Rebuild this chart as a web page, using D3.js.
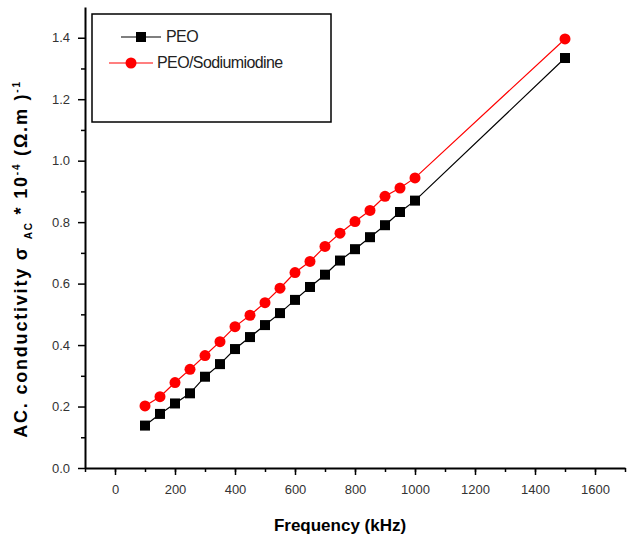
<!DOCTYPE html>
<html>
<head>
<meta charset="utf-8">
<script src="https://cdn.jsdelivr.net/npm/d3@7"></script>
<style>
  body { margin: 0; background: #fff; }
  svg { font-family: "Liberation Sans", Arial, sans-serif; }
</style>
</head>
<body>
<svg id="chart" width="628" height="542"></svg>
<script>
// Data
const frequencies = [100, 150, 200, 250, 300, 350, 400, 450, 500, 550, 600, 650, 700, 750, 800, 850, 900, 950, 1000, 1500];
const peo = [0.138, 0.176, 0.21, 0.243, 0.297, 0.338, 0.387, 0.426, 0.465, 0.504, 0.547, 0.589, 0.629, 0.675, 0.712, 0.751, 0.79, 0.833, 0.87, 1.334];
const peoNaI = [0.202, 0.232, 0.278, 0.321, 0.366, 0.411, 0.46, 0.497, 0.538, 0.585, 0.636, 0.672, 0.721, 0.764, 0.802, 0.838, 0.884, 0.911, 0.944, 1.396];
const xTicks = [0, 200, 400, 600, 800, 1000, 1200, 1400, 1600];
const yTicks = [0.0, 0.2, 0.4, 0.6, 0.8, 1.0, 1.2, 1.4];

const svg = d3.select("#chart");
const plotLeft = 85, plotRight = 625, plotTop = 7, plotBottom = 468;

const x = d3.scaleLinear().domain([-100, 1700]).range([plotLeft, plotRight]);
const y = d3.scaleLinear().domain([0, 1.5]).range([plotBottom, plotTop]);

// Minor ticks first (short), then major ticks with labels
svg.append("g")
  .attr("transform", `translate(0,${plotBottom})`)
  .call(d3.axisBottom(x).tickValues(d3.range(-100, 1701, 100)).tickSize(4).tickFormat(""))
  .call((g) => g.select(".domain").remove())
  .call((g) => g.selectAll("line").attr("stroke", "#000").attr("stroke-width", 1.5));

const xAxis = svg.append("g")
  .attr("transform", `translate(0,${plotBottom})`)
  .call(d3.axisBottom(x).tickValues(xTicks).tickSize(7).tickSizeOuter(0).tickPadding(10).tickFormat(d3.format("d")));
xAxis.select(".domain").attr("stroke", "#000").attr("stroke-width", 2);
xAxis.selectAll("line").attr("stroke", "#000").attr("stroke-width", 1.5);
xAxis.selectAll("text").attr("font-size", 13).attr("fill", "#333").attr("font-family", "Liberation Sans, Arial, sans-serif");

svg.append("g")
  .attr("transform", `translate(${plotLeft},0)`)
  .call(d3.axisLeft(y).tickValues(d3.range(1, 15, 2).map((d) => d / 10)).tickSize(4).tickFormat(""))
  .call((g) => g.select(".domain").remove())
  .call((g) => g.selectAll("line").attr("stroke", "#000").attr("stroke-width", 1.5));

const yAxis = svg.append("g")
  .attr("transform", `translate(${plotLeft},0)`)
  .call(d3.axisLeft(y).tickValues(yTicks).tickSize(7).tickSizeOuter(0).tickPadding(8).tickFormat(d3.format(".1f")));
yAxis.select(".domain").attr("stroke", "#000").attr("stroke-width", 2);
yAxis.selectAll("line").attr("stroke", "#000").attr("stroke-width", 1.5);
yAxis.selectAll("text").attr("font-size", 13).attr("fill", "#333").attr("font-family", "Liberation Sans, Arial, sans-serif");

// Axis titles
svg.append("text")
  .attr("x", 340)
  .attr("y", 531)
  .attr("text-anchor", "middle")
  .attr("font-size", 17)
  .attr("font-weight", "bold")
  .text("Frequency (kHz)");

const yTitle = svg.append("text")
  .attr("transform", "translate(27,259) rotate(-90)")
  .attr("text-anchor", "middle")
  .attr("font-size", 18)
  .attr("font-weight", "bold")
  .attr("letter-spacing", 1.8);
yTitle.append("tspan").text("AC. conductivity σ ");
yTitle.append("tspan").attr("font-size", 10).attr("dy", 5).text("AC");
yTitle.append("tspan").attr("dy", -5).text(" * 10");
yTitle.append("tspan").attr("font-size", 10).attr("dy", -7).text("-4");
yTitle.append("tspan").attr("dy", 7).text(" (Ω.m )");
yTitle.append("tspan").attr("font-size", 10).attr("dy", -7).text("-1");

// Series
const series = [
  { name: "PEO", values: peo, color: "#000", shape: "square" },
  { name: "PEO/Sodiumiodine", values: peoNaI, color: "#ff0000", shape: "circle" },
];

const line = d3.line()
  .x((d) => x(d[0]))
  .y((d) => y(d[1]));

function drawMarker(g, shape, color, cx, cy) {
  if (shape === "square") {
    g.append("rect")
      .attr("x", cx - 5).attr("y", cy - 5)
      .attr("width", 10).attr("height", 10)
      .attr("fill", color);
  } else {
    g.append("circle")
      .attr("cx", cx).attr("cy", cy).attr("r", 5.5)
      .attr("fill", color);
  }
}

series.forEach((s) => {
  const pts = frequencies.map((f, i) => [f, s.values[i]]);
  svg.append("path")
    .datum(pts)
    .attr("fill", "none")
    .attr("stroke", s.color)
    .attr("stroke-width", 1.2)
    .attr("d", line);
  const g = svg.append("g");
  pts.forEach((p) => drawMarker(g, s.shape, s.color, x(p[0]), y(p[1])));
});

// Legend
svg.append("rect")
  .attr("x", 92).attr("y", 14)
  .attr("width", 239).attr("height", 108)
  .attr("fill", "none")
  .attr("stroke", "#000")
  .attr("stroke-width", 1.5);

const legendRows = [
  { s: series[0], x1: 121, x2: 161, y: 37, tx: 166 },
  { s: series[1], x1: 109, x2: 153, y: 63, tx: 157 },
];
legendRows.forEach((r) => {
  const g = svg.append("g");
  g.append("line")
    .attr("x1", r.x1).attr("x2", r.x2)
    .attr("y1", r.y).attr("y2", r.y)
    .attr("stroke", r.s.color).attr("stroke-width", 1.2);
  drawMarker(g, r.s.shape, r.s.color, (r.x1 + r.x2) / 2, r.y);
  g.append("text")
    .attr("x", r.tx).attr("y", r.y + 5)
    .attr("font-size", 16)
    .attr("fill", "#222")
    .attr("letter-spacing", -0.6)
    .text(r.s.name);
});
</script>
</body>
</html>
